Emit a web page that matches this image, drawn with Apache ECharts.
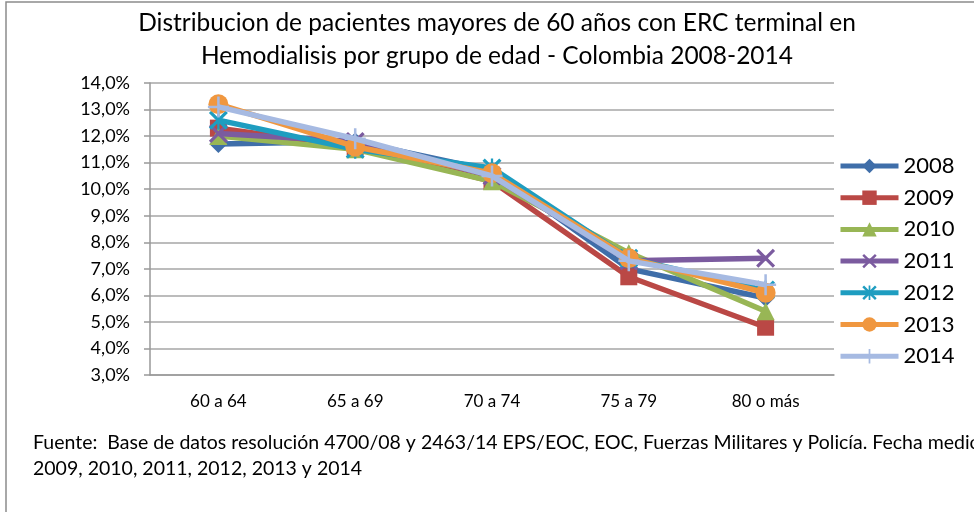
<!DOCTYPE html>
<html>
<head>
<meta charset="utf-8">
<script src="https://cdn.jsdelivr.net/npm/echarts@6/dist/echarts.min.js"></script>
<style>
  html, body { margin: 0; padding: 0; background: #fff; }
  #chart { width: 974px; height: 512px; }
</style>
</head>
<body>
<div id="chart"></div>
<script>
// grupos de edad
var categories = ['60 a 64', '65 a 69', '70 a 74', '75 a 79', '80 o más'];
var years = ['2008', '2009', '2010', '2011', '2012', '2013', '2014'];
// porcentajes por año
var s2008 = [11.7, 11.8, 10.7, 7.0, 5.9];
var s2009 = [12.3, 11.6, 10.3, 6.7, 4.8];
var s2010 = [12.0, 11.5, 10.3, 7.6, 5.4];
var s2011 = [12.1, 11.8, 10.5, 7.3, 7.4];
var s2012 = [12.6, 11.5, 10.8, 7.4, 6.2];
var s2013 = [13.2, 11.6, 10.6, 7.4, 6.1];
var s2014 = [13.1, 11.9, 10.5, 7.3, 6.4];
var yTicks = [3, 14, 1]; // min, max, interval

var seriesData = [s2008, s2009, s2010, s2011, s2012, s2013, s2014];
var colors = ['#3F6EA9', '#BA4845', '#98B655', '#7B5B9F', '#1E9DC0', '#F0973F', '#A6BAE2'];

var xPath = 'path://M0,1.2 L1.2,0 L5,3.8 L8.8,0 L10,1.2 L6.2,5 L10,8.8 L8.8,10 L5,6.2 L1.2,10 L0,8.8 L3.8,5 Z';
var starPath = 'path://M0,1.2 L1.2,0 L5,3.8 L8.8,0 L10,1.2 L6.2,5 L10,8.8 L8.8,10 L5,6.2 L1.2,10 L0,8.8 L3.8,5 Z M4.4,0 L5.6,0 L5.6,10 L4.4,10 Z';
var plusPath = 'path://M4.4,0 L5.6,0 L5.6,4.4 L10,4.4 L10,5.6 L5.6,5.6 L5.6,10 L4.4,10 L4.4,5.6 L0,5.6 L0,4.4 L4.4,4.4 Z';
var symbols = ['diamond', 'rect', 'triangle', xPath, starPath, 'circle', plusPath];
var sizes = [18, 17, 18, 19, 19, 20, 21];

var font = 'Lato, "Open Sans", sans-serif';

var chart = echarts.init(document.getElementById('chart'));

var series = years.map(function (y, i) {
    return {
        name: y,
        type: 'line',
        data: seriesData[i],
        symbol: symbols[i],
        symbolSize: sizes[i],
        showAllSymbol: true,
        lineStyle: { width: 5.5, color: colors[i] },
        itemStyle: { color: colors[i] },
        z: 2 + i
    };
});

var option = {
    animation: false,
    backgroundColor: '#fff',
    color: colors,
    grid: { left: 150, right: 140, top: 83, bottom: 137 },
    legend: {
        orient: 'vertical',
        left: 833,
        top: 150,
        itemWidth: 58,
        itemHeight: 18,
        itemGap: 9.7,
        lineStyle: { width: 5 },
        textStyle: { fontFamily: font, fontSize: 22, color: '#000', lineHeight: 21 },
        data: years
    },
    xAxis: {
        type: 'category',
        data: categories,
        boundaryGap: true,
        axisLine: { lineStyle: { color: '#999', width: 1.5 } },
        axisTick: { length: 6, lineStyle: { color: '#999', width: 1.5 } },
        axisLabel: { fontFamily: font, fontSize: 17, color: '#000', margin: 18 }
    },
    yAxis: {
        type: 'value',
        min: yTicks[0],
        max: yTicks[1],
        interval: yTicks[2],
        axisLine: { show: true, lineStyle: { color: '#999', width: 1.5 } },
        axisTick: { show: true, length: 6, lineStyle: { color: '#999', width: 1.5 } },
        splitLine: { lineStyle: { color: '#a6a6a6', width: 1.5 } },
        axisLabel: {
            fontFamily: font, fontSize: 18, color: '#000', margin: 20,
            formatter: function (v) { return v.toFixed(1).replace('.', ',') + '%'; }
        }
    },
    graphic: [
        {
            type: 'rect', z: -1,
            shape: { x: 6, y: 2, width: 1100, height: 700 },
            style: { fill: 'none', stroke: '#8c8c8c', lineWidth: 1.5 }
        },
        {
            type: 'text', x: 497, y: 23,
            style: {
                text: 'Distribucion de pacientes mayores de 60 años con ERC terminal en',
                fontFamily: font, fontSize: 24.5, fill: '#000',
                textAlign: 'center', textVerticalAlign: 'middle'
            }
        },
        {
            type: 'text', x: 497, y: 56,
            style: {
                text: 'Hemodialisis por grupo de edad - Colombia 2008-2014',
                fontFamily: font, fontSize: 24.5, fill: '#000',
                textAlign: 'center', textVerticalAlign: 'middle'
            }
        },
        {
            type: 'text', x: 33, y: 443,
            style: {
                text: 'Fuente:  Base de datos resolución 4700/08 y 2463/14 EPS/EOC, EOC, Fuerzas Militares y Policía. Fecha medición',
                fontFamily: font, fontSize: 19.5, fill: '#000',
                textAlign: 'left', textVerticalAlign: 'middle'
            }
        },
        {
            type: 'text', x: 33, y: 469,
            style: {
                text: '2009, 2010, 2011, 2012, 2013 y 2014',
                fontFamily: font, fontSize: 19.5, fill: '#000',
                textAlign: 'left', textVerticalAlign: 'middle'
            }
        }
    ],
    series: series
};

chart.setOption(option);
</script>
</body>
</html>
